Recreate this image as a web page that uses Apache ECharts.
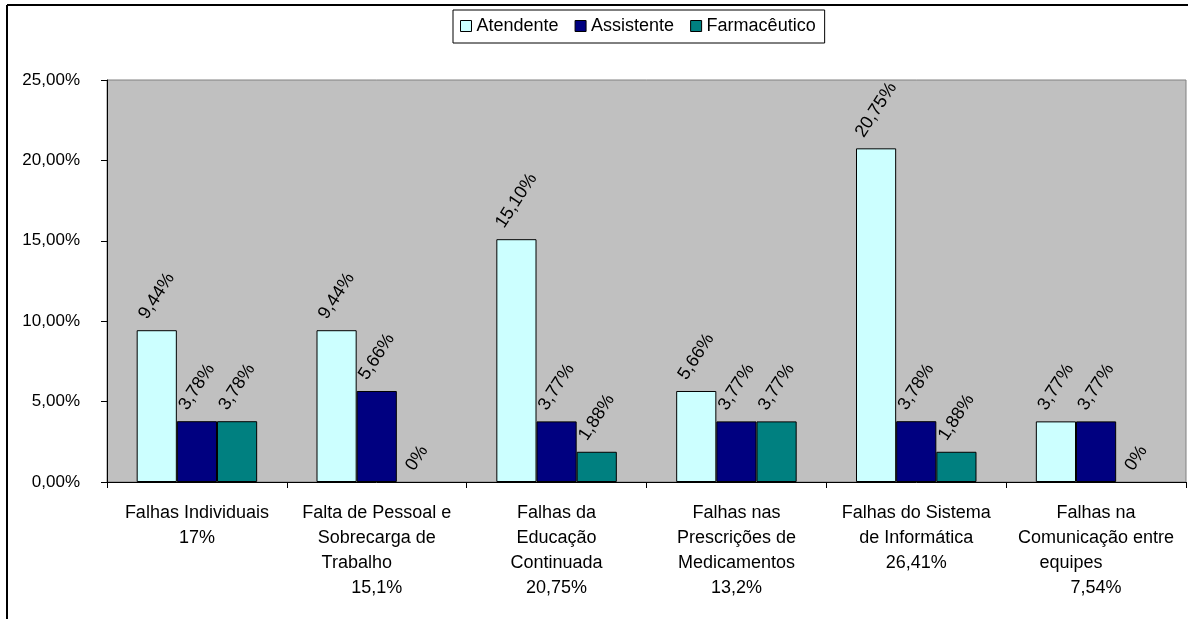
<!DOCTYPE html>
<html>
<head>
<meta charset="utf-8">
<script src="https://cdn.jsdelivr.net/npm/echarts@6/dist/echarts.min.js"></script>
<style>
  html, body { margin: 0; padding: 0; background: #fff; }
  #main { width: 1199px; height: 619px; }
</style>
</head>
<body>
<div id="main"></div>
<script>
const categories = [
  'Falhas Individuais\n17%',
  'Falta de Pessoal e\nSobrecarga de\nTrabalho        \n15,1%',
  'Falhas da\nEducação\nContinuada\n20,75%',
  'Falhas nas\nPrescrições de\nMedicamentos\n13,2%',
  'Falhas do Sistema\nde Informática\n26,41%',
  'Falhas na\nComunicação entre\nequipes          \n7,54%'
];
const atendente = [9.44, 9.44, 15.10, 5.66, 20.75, 3.77];
const assistente = [3.78, 5.66, 3.77, 3.77, 3.78, 3.77];
const farmaceutico = [3.78, 0, 1.88, 3.77, 1.88, 0];
const yTicks = [0, 5, 10, 15, 20, 25];

const FONT = '"Liberation Sans", Arial, sans-serif';
const LABEL_SIZE = 18;
const ANGLE = 57;

const fmt = (v) => (v === 0 ? '0%' : v.toFixed(2).replace('.', ',') + '%');

// measure label text so the rotated box can be centred above the bar
const ctx = document.createElement('canvas').getContext('2d');
ctx.font = LABEL_SIZE + 'px ' + FONT;

function withLabels(values) {
  const c = Math.cos(ANGLE * Math.PI / 180);
  const s = Math.sin(ANGLE * Math.PI / 180);
  const h = LABEL_SIZE;
  const gap = 8;
  return values.map((v) => {
    const L = ctx.measureText(fmt(v)).width;
    const sx = -L * c / 2;
    const sy = -gap - (h / 2) * c;
    const item = {
      value: v,
      label: { offset: [sx * c - sy * s, sx * s + sy * c] }
    };
    if (v === 0) item.itemStyle = { borderWidth: 0 };
    return item;
  });
}

const barLabel = {
  show: true,
  position: 'top',
  distance: 0,
  rotate: ANGLE,
  align: 'left',
  verticalAlign: 'middle',
  color: '#000',
  fontFamily: FONT,
  fontSize: LABEL_SIZE,
  formatter: (p) => fmt(p.value)
};

const myChart = echarts.init(document.getElementById('main'));

const option = {
  animation: false,
  backgroundColor: '#fff',
  textStyle: { fontFamily: FONT },
  graphic: [
    { type: 'line', shape: { x1: 7, y1: 5, x2: 1188, y2: 5 }, style: { stroke: '#000', lineWidth: 2 } },
    { type: 'line', shape: { x1: 7, y1: 5, x2: 7, y2: 619 }, style: { stroke: '#000', lineWidth: 2 } }
  ],
  legend: {
    left: 453,
    top: 10,
    padding: [7, 9, 8, 7],
    backgroundColor: '#fff',
    borderColor: '#000',
    borderWidth: 1,
    borderRadius: 0,
    icon: 'rect',
    itemWidth: 11,
    itemHeight: 11,
    itemGap: 16,
    itemStyle: { borderColor: '#000', borderWidth: 1 },
    textStyle: { fontSize: 18, color: '#000', fontFamily: FONT, padding: [0, 0, 0, 0] },
    data: ['Atendente', 'Assistente', 'Farmacêutico']
  },
  grid: {
    left: 107,
    right: 13,
    top: 80,
    bottom: 137,
    show: true,
    backgroundColor: '#C0C0C0',
    borderColor: '#808080',
    borderWidth: 1
  },
  xAxis: {
    type: 'category',
    data: categories,
    axisLine: { show: true, lineStyle: { color: '#000', width: 1 } },
    axisTick: { show: true, length: 6, lineStyle: { color: '#000' } },
    axisLabel: {
      interval: 0,
      margin: 19,
      fontSize: 18,
      lineHeight: 25,
      color: '#000',
      fontFamily: FONT,
      align: 'center'
    },
    splitLine: { show: false }
  },
  yAxis: {
    type: 'value',
    min: yTicks[0],
    max: yTicks[yTicks.length - 1],
    interval: yTicks[1] - yTicks[0],
    axisLine: { show: true, lineStyle: { color: '#000', width: 1 } },
    axisTick: { show: true, length: 6, lineStyle: { color: '#000' } },
    axisLabel: {
      margin: 27,
      fontSize: 17,
      color: '#000',
      fontFamily: FONT,
      formatter: (v) => v.toFixed(2).replace('.', ',') + '%'
    },
    splitLine: { show: false }
  },
  series: [
    {
      name: 'Atendente',
      type: 'bar',
      data: withLabels(atendente),
      barGap: '0%',
      barCategoryGap: '33%',
      itemStyle: { color: '#CCFFFF', borderColor: '#000', borderWidth: 1 },
      label: barLabel
    },
    {
      name: 'Assistente',
      type: 'bar',
      data: withLabels(assistente),
      itemStyle: { color: '#000080', borderColor: '#000', borderWidth: 1 },
      label: barLabel
    },
    {
      name: 'Farmacêutico',
      type: 'bar',
      data: withLabels(farmaceutico),
      itemStyle: { color: '#008080', borderColor: '#000', borderWidth: 1 },
      label: barLabel
    }
  ]
};

myChart.setOption(option);
</script>
</body>
</html>
